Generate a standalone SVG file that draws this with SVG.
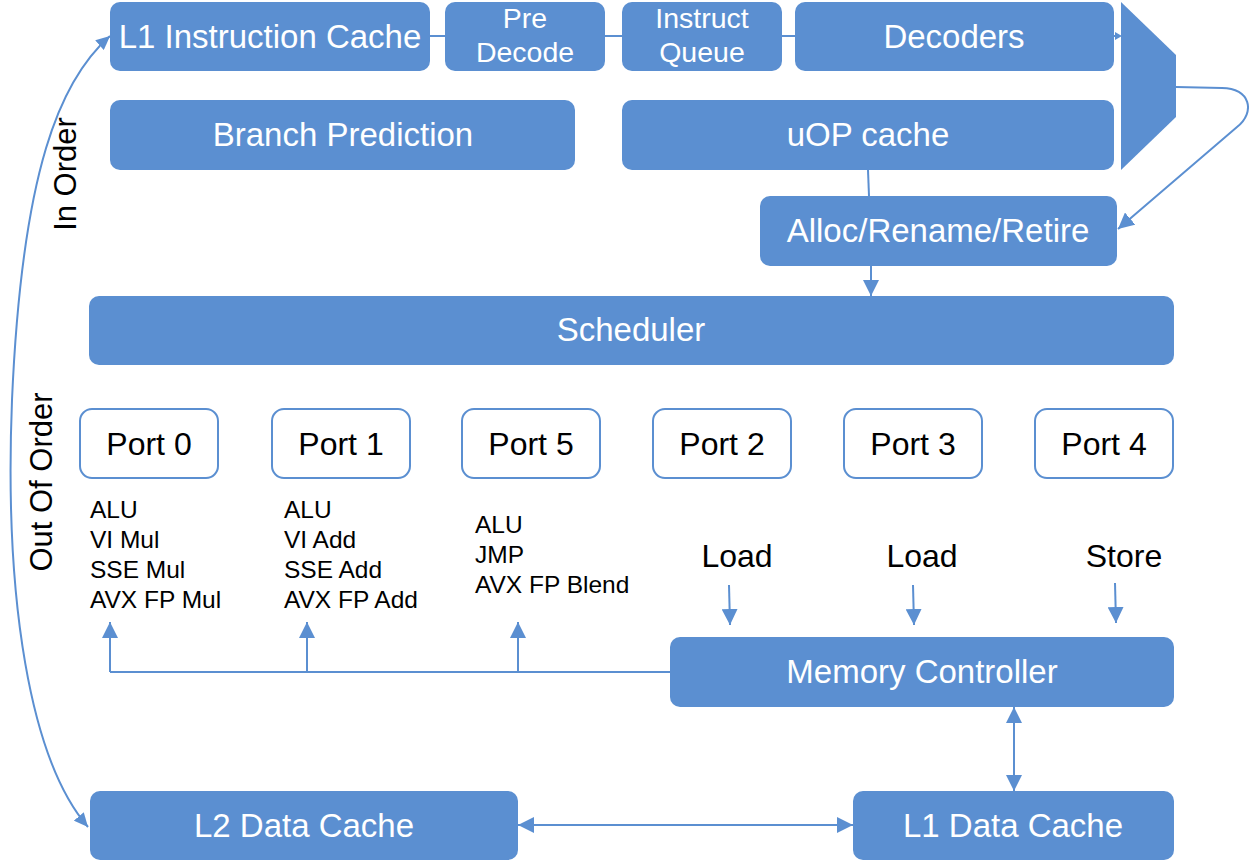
<svg xmlns="http://www.w3.org/2000/svg" width="1249" height="861" viewBox="0 0 1249 861">
<style>
.box{fill:#5B8FD1;}
.port{fill:#FFFFFF;stroke:#5B8FD1;stroke-width:2;}
.wt{font-family:"Liberation Sans",Arial,sans-serif;fill:#FFFFFF;font-size:33px;text-anchor:middle;}
.wt2{font-family:"Liberation Sans",Arial,sans-serif;fill:#FFFFFF;font-size:28.5px;text-anchor:middle;}
.bt{font-family:"Liberation Sans",Arial,sans-serif;fill:#000000;font-size:32px;text-anchor:middle;}
.st{font-family:"Liberation Sans",Arial,sans-serif;fill:#000000;font-size:24.5px;}
.side{font-family:"Liberation Sans",Arial,sans-serif;fill:#000000;font-size:31px;text-anchor:middle;}
.ln{fill:none;stroke:#5B8FD1;stroke-width:2;}
.arr{fill:none;stroke:#5B8FD1;stroke-width:2;marker-end:url(#ah);}
.arr2{fill:none;stroke:#5B8FD1;stroke-width:2;marker-end:url(#ah);marker-start:url(#ah);}
.arrs{fill:none;stroke:#5B8FD1;stroke-width:2;marker-end:url(#ahs);marker-start:url(#ahs);}
</style>
<defs>
<marker id="ah" markerUnits="userSpaceOnUse" markerWidth="16" markerHeight="16" refX="16" refY="8" orient="auto-start-reverse" viewBox="0 0 16 16">
<path d="M0,0 L16,8 L0,16 z" fill="#5B8FD1"/>
</marker>
<marker id="ahs" markerUnits="userSpaceOnUse" markerWidth="14" markerHeight="13" refX="14" refY="6.5" orient="auto-start-reverse" viewBox="0 0 14 13">
<path d="M0,0 L14,6.5 L0,13 z" fill="#5B8FD1"/>
</marker>
</defs>
<rect width="1249" height="861" fill="#FFFFFF"/>

<g id="labels-side">
<text class="side" transform="translate(76,174) rotate(-90)">In Order</text>
<text class="side" transform="translate(52,482) rotate(-90)">Out Of Order</text>
</g>

<g id="connectors">
<line class="ln" x1="430" y1="36" x2="445" y2="36"/>
<line class="ln" x1="605" y1="36" x2="622" y2="36"/>
<line class="ln" x1="782" y1="36" x2="795" y2="36"/>
<line class="ln" x1="1114" y1="36" x2="1118" y2="36"/>
<path d="M1115,32 L1122,36 L1115,40 z" fill="#5B8FD1"/>
<path class="arr" d="M1176,87 L1222,88 C1250,88 1256,112 1237,127 L1118,229"/>
<line class="ln" x1="868" y1="170" x2="869" y2="196"/>
<line class="arr" x1="871" y1="266" x2="871" y2="296"/>
<path class="arrs" d="M110,36 C60,80 22,170 12,400 C4,600 30,760 88,827"/>
<path class="ln" d="M670,672 L110,672"/>
<line class="arr" x1="110" y1="672" x2="110" y2="622"/>
<line class="arr" x1="307" y1="672" x2="307" y2="622"/>
<line class="arr" x1="518" y1="672" x2="518" y2="622"/>
<line class="arr" x1="729" y1="585" x2="730" y2="625"/>
<line class="arr" x1="913" y1="585" x2="914" y2="625"/>
<line class="arr" x1="1115" y1="583" x2="1116" y2="623"/>
<line class="arr2" x1="1014" y1="707" x2="1014" y2="791"/>
<line class="arr2" x1="518" y1="825" x2="853" y2="825"/>
</g>

<g id="l1ic"><rect class="box" x="110" y="2" width="320" height="69" rx="10"/><text class="wt" x="270" y="48">L1 Instruction Cache</text></g>
<g id="predecode"><rect class="box" x="445" y="2" width="160" height="69" rx="10"/><text class="wt2" x="525" y="28">Pre</text><text class="wt2" x="525" y="62">Decode</text></g>
<g id="iqueue"><rect class="box" x="622" y="2" width="160" height="69" rx="10"/><text class="wt2" x="702" y="28">Instruct</text><text class="wt2" x="702" y="62">Queue</text></g>
<g id="decoders"><rect class="box" x="795" y="2" width="319" height="69" rx="10"/><text class="wt" x="954" y="48">Decoders</text></g>
<g id="mux"><polygon class="box" points="1121,2 1176,55 1176,117 1121,170"/></g>
<g id="branch"><rect class="box" x="110" y="100" width="465" height="70" rx="10"/><text class="wt" x="343" y="146">Branch Prediction</text></g>
<g id="uop"><rect class="box" x="622" y="100" width="492" height="70" rx="10"/><text class="wt" x="868" y="146">uOP cache</text></g>
<g id="alloc"><rect class="box" x="760" y="196" width="357" height="70" rx="10"/><text class="wt" x="938" y="242">Alloc/Rename/Retire</text></g>
<g id="scheduler"><rect class="box" x="89" y="296" width="1085" height="69" rx="10"/><text class="wt" x="631" y="341">Scheduler</text></g>

<g id="port0"><rect class="port" x="80" y="409" width="138" height="69" rx="12"/><text class="bt" x="149" y="455">Port 0</text></g>
<g id="port1"><rect class="port" x="272" y="409" width="138" height="69" rx="12"/><text class="bt" x="341" y="455">Port 1</text></g>
<g id="port5"><rect class="port" x="462" y="409" width="138" height="69" rx="12"/><text class="bt" x="531" y="455">Port 5</text></g>
<g id="port2"><rect class="port" x="653" y="409" width="138" height="69" rx="12"/><text class="bt" x="722" y="455">Port 2</text></g>
<g id="port3"><rect class="port" x="844" y="409" width="138" height="69" rx="12"/><text class="bt" x="913" y="455">Port 3</text></g>
<g id="port4"><rect class="port" x="1035" y="409" width="138" height="69" rx="12"/><text class="bt" x="1104" y="455">Port 4</text></g>

<g id="units0"><text class="st" x="90" y="518">ALU</text><text class="st" x="90" y="548">VI Mul</text><text class="st" x="90" y="578">SSE Mul</text><text class="st" x="90" y="608">AVX FP Mul</text></g>
<g id="units1"><text class="st" x="284" y="518">ALU</text><text class="st" x="284" y="548">VI Add</text><text class="st" x="284" y="578">SSE Add</text><text class="st" x="284" y="608">AVX FP Add</text></g>
<g id="units5"><text class="st" x="475" y="533">ALU</text><text class="st" x="475" y="563">JMP</text><text class="st" x="475" y="593">AVX FP Blend</text></g>
<g id="memlabels"><text class="bt" x="737" y="567">Load</text><text class="bt" x="922" y="567">Load</text><text class="bt" x="1124" y="567">Store</text></g>

<g id="memctrl"><rect class="box" x="670" y="637" width="504" height="70" rx="10"/><text class="wt" x="922" y="683">Memory Controller</text></g>
<g id="l2dc"><rect class="box" x="90" y="791" width="428" height="69" rx="10"/><text class="wt" x="304" y="837">L2 Data Cache</text></g>
<g id="l1dc"><rect class="box" x="853" y="791" width="321" height="69" rx="10"/><text class="wt" x="1013" y="837">L1 Data Cache</text></g>
</svg>
